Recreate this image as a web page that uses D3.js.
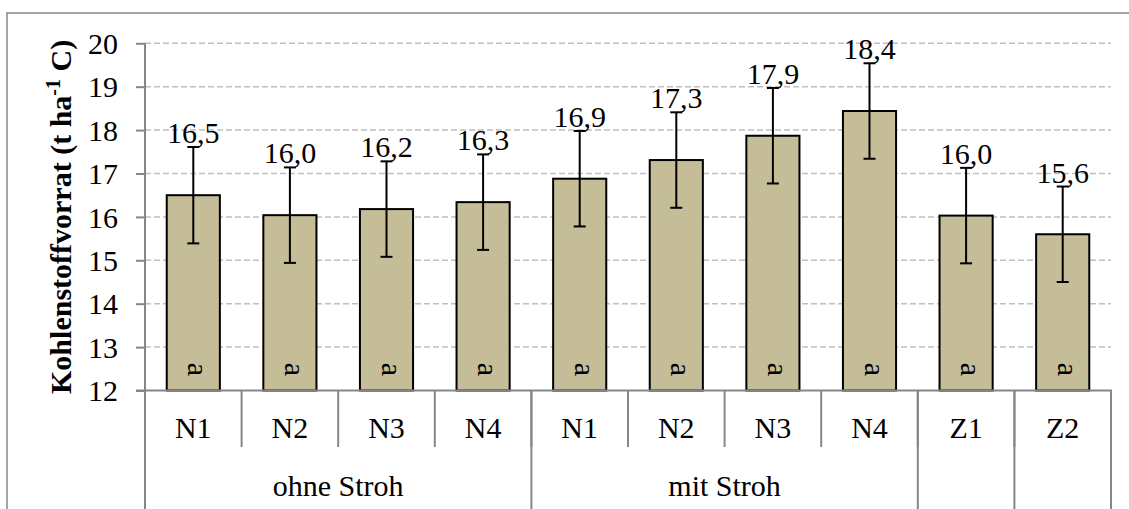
<!DOCTYPE html>
<html>
<head>
<meta charset="utf-8">
<script src="https://cdn.jsdelivr.net/npm/d3@7"></script>
<style>
    html, body { margin: 0; padding: 0; background: #fff; }
    text { font-family: "Liberation Serif", "Times New Roman", serif; fill: #000; }
</style>
</head>
<body>
<div id="chart"></div>
<script>
// data
var categories = ["N1", "N2", "N3", "N4", "N1", "N2", "N3", "N4", "Z1", "Z2"];
var groups = ["ohne Stroh", "mit Stroh", "", ""];
var groupSizes = [4, 4, 1, 1];
var values = [16.5, 16.04, 16.18, 16.34, 16.88, 17.31, 17.87, 18.44, 16.03, 15.6];
var errors = [1.11, 1.1, 1.1, 1.1, 1.1, 1.1, 1.1, 1.1, 1.1, 1.1];
var letters = ["a", "a", "a", "a", "a", "a", "a", "a", "a", "a"];
var yTicks = [12, 13, 14, 15, 16, 17, 18, 19, 20];

(function () {
    var width = 1129,
        height = 509,
        left = 145,
        right = 1111,
        top = 43.3,
        bottom = 390.5,
        fontSize = 30;

    var de = d3.formatLocale({decimal: ",", thousands: ".", grouping: [3], currency: ["", " €"]});
    var fmt = de.format(".1f");

    var svg = d3.select("#chart").append("svg")
        .attr("width", width)
        .attr("height", height);

    // outer chart border (right and bottom are cut off in the picture)
    svg.append("rect")
        .attr("x", 7).attr("y", 13)
        .attr("width", 1200).attr("height", 600)
        .style("fill", "none")
        .style("stroke", "#868686")
        .style("stroke-width", 1.5);

    var x = d3.scaleBand()
        .domain(d3.range(categories.length))
        .range([left, right])
        .paddingInner(0.45)
        .paddingOuter(0.225);

    var y = d3.scaleLinear()
        .domain([12, 20])
        .range([bottom, top]);

    var step = x.step();

    // gridlines
    svg.append("g")
        .selectAll("line")
        .data(yTicks.filter(function (d) { return d > 12; }))
        .enter().append("line")
        .attr("x1", left).attr("x2", right)
        .attr("y1", function (d) { return y(d); })
        .attr("y2", function (d) { return y(d); })
        .style("stroke", "#bfbfbf")
        .style("stroke-width", 1.5)
        .style("stroke-dasharray", "6,3");

    // y axis
    var yAxis = d3.axisLeft(y)
        .tickValues(yTicks)
        .tickSize(9)
        .tickPadding(18)
        .tickFormat(d3.format("d"));

    var gy = svg.append("g")
        .attr("transform", "translate(" + left + ",0)")
        .call(yAxis);
    gy.select(".domain").remove();
    gy.selectAll(".tick line").style("stroke", "#868686").style("stroke-width", 2);
    gy.selectAll(".tick text")
        .style("font-size", fontSize + "px")
        .style("font-family", "'Liberation Serif', serif")
        .attr("fill", "#000")
        .attr("dy", "0.34em");

    svg.append("line")
        .attr("x1", left).attr("x2", left)
        .attr("y1", top).attr("y2", bottom)
        .style("stroke", "#868686").style("stroke-width", 2);

    // bars
    svg.append("g")
        .selectAll("rect")
        .data(values)
        .enter().append("rect")
        .attr("x", function (d, i) { return x(i); })
        .attr("y", function (d) { return y(d); })
        .attr("width", x.bandwidth())
        .attr("height", function (d) { return y(12) - y(d); })
        .style("fill", "#c4bd97")
        .style("stroke", "#000")
        .style("stroke-width", 2);

    // x axis line and category separators
    var ga = svg.append("g").style("stroke", "#868686").style("stroke-width", 2);
    ga.append("line")
        .attr("x1", left - 9).attr("x2", right + 1)
        .attr("y1", bottom).attr("y2", bottom);

    ga.selectAll(".sep")
        .data(d3.range(categories.length + 1))
        .enter().append("line")
        .attr("class", "sep")
        .attr("x1", function (d) { return left + d * step; })
        .attr("x2", function (d) { return left + d * step; })
        .attr("y1", bottom)
        .attr("y2", 447);

    var groupEdges = [0];
    groupSizes.forEach(function (n, i) { groupEdges.push(groupEdges[i] + n); });

    ga.selectAll(".gsep")
        .data(groupEdges)
        .enter().append("line")
        .attr("class", "gsep")
        .attr("x1", function (d) { return left + d * step; })
        .attr("x2", function (d) { return left + d * step; })
        .attr("y1", bottom)
        .attr("y2", height + 5);

    // error bars
    var ge = svg.append("g").style("stroke", "#000").style("stroke-width", 2);
    values.forEach(function (v, i) {
        var cx = x(i) + x.bandwidth() / 2;
        ge.append("line")
            .attr("x1", cx).attr("x2", cx)
            .attr("y1", y(v - errors[i])).attr("y2", y(v + errors[i]));
        [v - errors[i], v + errors[i]].forEach(function (e) {
            ge.append("line")
                .attr("x1", cx - 6).attr("x2", cx + 6)
                .attr("y1", y(e)).attr("y2", y(e));
        });
    });

    // value labels
    svg.append("g")
        .selectAll("text")
        .data(values)
        .enter().append("text")
        .attr("x", function (d, i) { return x(i) + x.bandwidth() / 2; })
        .attr("y", function (d, i) { return y(d + errors[i]) - 4; })
        .attr("text-anchor", "middle")
        .style("font-size", fontSize + "px")
        .text(function (d) { return fmt(d); });

    // significance letters, rotated inside the bar foot
    svg.append("g")
        .selectAll("text")
        .data(letters)
        .enter().append("text")
        .attr("transform", function (d, i) {
            return "translate(" + (x(i) + x.bandwidth() / 2 - 5) + "," + (bottom - 21) + ") rotate(90)";
        })
        .attr("text-anchor", "middle")
        .style("font-size", fontSize + "px")
        .text(function (d) { return d; });

    // category labels
    svg.append("g")
        .selectAll("text")
        .data(categories)
        .enter().append("text")
        .attr("x", function (d, i) { return left + (i + 0.5) * step; })
        .attr("y", 438)
        .attr("text-anchor", "middle")
        .style("font-size", fontSize + "px")
        .text(function (d) { return d; });

    // group labels
    svg.append("g")
        .selectAll("text")
        .data(groups)
        .enter().append("text")
        .attr("x", function (d, i) { return left + (groupEdges[i] + groupSizes[i] / 2) * step; })
        .attr("y", 496)
        .attr("text-anchor", "middle")
        .style("font-size", fontSize + "px")
        .text(function (d) { return d; });

    // y title
    var title = svg.append("text")
        .attr("transform", "translate(71," + ((top + bottom) / 2) + ") rotate(-90)")
        .attr("text-anchor", "middle")
        .style("font-size", fontSize + "px")
        .style("font-weight", "bold");
    title.append("tspan").text("Kohlenstoffvorrat (t ha");
    title.append("tspan").attr("dy", -11).style("font-size", "20px").text("-1");
    title.append("tspan").attr("dy", 11).text(" C)");
}());
</script>
</body>
</html>
